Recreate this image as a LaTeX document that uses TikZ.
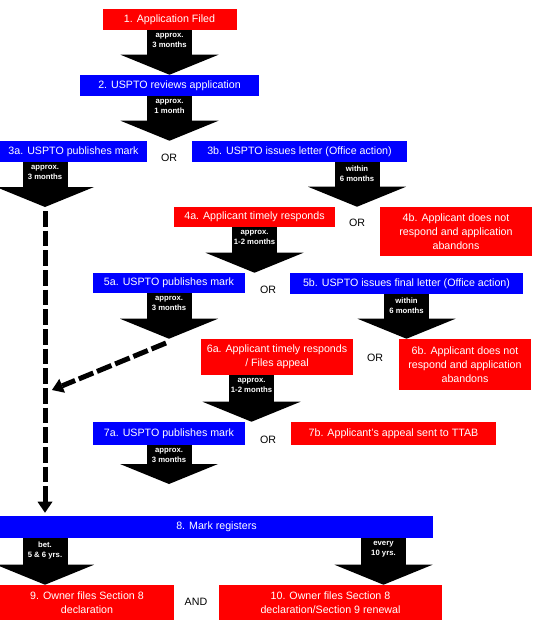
\documentclass[tikz,border=0pt]{standalone}
\usepackage{fontspec}
\setmainfont{Liberation Sans}
\usetikzlibrary{arrows.meta}
\newcommand\stepfont{\fontsize{8}{10.5}\selectfont}
\newcommand\timefont{\fontsize{5.8}{7.5}\selectfont\bfseries}
\tikzset{
  redbox/.style={fill=red},
  bluebox/.style={fill=blue},
  boxsize/.style 2 args={minimum width=#1*0.75pt, minimum height=#2*0.75pt},
  dashlink/.style={line width=3.75pt, dash pattern=on 11.75pt off 3pt,
    -{Triangle[length=8.25pt,width=11.25pt,line width=0pt]}}
}

\begin{document}
\begin{tikzpicture}[x=0.75pt,y=-0.75pt]
\useasboundingbox (0,0) rectangle (541,625);
\begin{scope}[every node/.style={text=white,font=\stepfont,align=center,inner sep=0pt}]
  \node[redbox,boxsize={134}{21}] (b1) at (169.5,19.5) {1. Application Filed};
  \node[bluebox,boxsize={179}{21}] (b2) at (169.5,85.5) {2. USPTO reviews application};
  \node[bluebox,boxsize={147}{21}] (b3a) at (73.5,151.5) {3a. USPTO publishes mark};
  \node[bluebox,boxsize={215}{21}] (b3b) at (299.5,151.5) {3b. USPTO issues letter (Office action)};
  \node[redbox,boxsize={161}{20}] (b4a) at (254.5,217) {4a. Applicant timely responds};
  \node[redbox,boxsize={152}{49}] (b4b) at (456,231.5) {4b. Applicant does not\\respond and application\\abandons};
  \node[bluebox,boxsize={152}{20}] (b5a) at (169,283) {5a. USPTO publishes mark};
  \node[bluebox,boxsize={233}{21}] (b5b) at (406.5,283.5) {5b. USPTO issues final letter (Office action)};
  \node[redbox,boxsize={152}{36}] (b6a) at (277,357) {6a. Applicant timely responds\\/ Files appeal};
  \node[redbox,boxsize={132}{51}] (b6b) at (465,364.5) {6b. Applicant does not\\respond and application\\abandons};
  \node[bluebox,boxsize={152}{23}] (b7a) at (169,433.5) {7a. USPTO publishes mark};
  \node[redbox,boxsize={205}{23}] (b7b) at (393.5,433.5) {7b. Applicant's appeal sent to TTAB};
  \node[bluebox,boxsize={433}{22}] (b8) at (216.5,527) {8. Mark registers};
  \node[redbox,boxsize={174}{35}] (b9) at (87,602.5) {9. Owner files Section 8\\declaration};
  \node[redbox,boxsize={223}{35}] (b10) at (330.5,602.5) {10. Owner files Section 8\\declaration/Section 9 renewal};
\end{scope}

\begin{scope}[every node/.style={font=\stepfont}]
  \node (or3) at (169,158) {OR};
  \node (or4) at (357,223) {OR};
  \node (or5) at (268,290) {OR};
  \node (or6) at (375,358) {OR};
  \node (or7) at (268,440) {OR};
  \node (and) at (196,602) {AND};
\end{scope}

\coordinate (d1) at (45,207);
\coordinate (d2) at (166,343);
\coordinate (d3) at (52,390);
\coordinate (a6) at (251.5,375);
\coordinate (t7) at (169,484);
\coordinate (a10) at (383.5,538);

\begin{scope}[>={Triangle[length=15pt,width=73.5pt,line width=0pt]},
              every node/.style={text=white,font=\timefont,align=center,inner xsep=1.5pt,inner ysep=2.5pt,outer sep=0pt,anchor=north},
              line width=33.75pt]
  \draw[->] (b1.south) -- node[at start] {approx.\\3 months} (b2.north);
  \draw[->] (b2.south) -- node[at start] {approx.\\1 month} (b2.south |- b3a.north);
  \draw[->] (b3a.south -| d1) -- node[at start] {approx.\\3 months} (d1);
  \draw[->] (b3b.south -| or4) -- node[at start] {within\\6 months} (or4 |- b4b.north);
  \draw[->] (b4a.south) -- node[at start] {approx.\\1-2 months} (b4a.south |- b5a.north);
  \draw[->] (b5a.south) -- node[at start] {approx.\\3 months} (b5a.south |- b6a.north);
  \draw[->] (b5b.south) -- node[at start] {within\\6 months} (b5b.south |- b6b.north);
  \draw[->] (a6) -- node[at start] {approx.\\1-2 months} (a6 |- b7a.north);
  \draw[->] (b7a.south) -- node[at start] {approx.\\3 months} (t7);
  \draw[->] (b8.south -| d1) -- node[at start] {bet.\\5 \& 6 yrs.} (b9.north -| d1);
  \draw[->] (a10) -- node[at start] {every\\10 yrs.} (a10 |- b10.north);
\end{scope}

\draw[dashlink, shorten <=3pt, shorten >=2.25pt] (d1) -- (b8.north -| d1);
\draw[dashlink] (d2) -- (d3);
\end{tikzpicture}
\end{document}
